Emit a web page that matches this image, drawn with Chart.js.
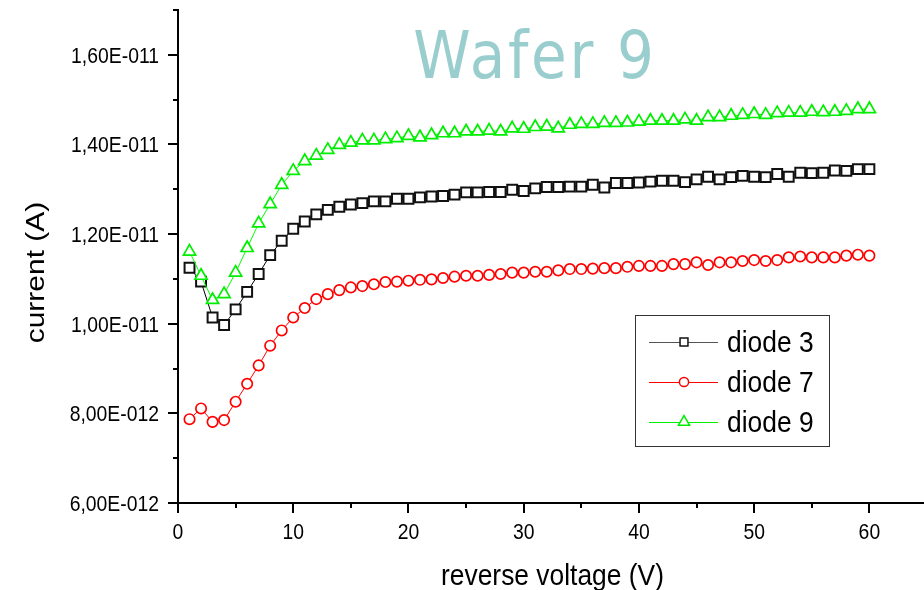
<!DOCTYPE html>
<html>
<head>
<meta charset="utf-8">
<script src="https://cdn.jsdelivr.net/npm/chart.js@4/dist/chart.umd.min.js"></script>
<style>
  html, body { margin: 0; padding: 0; background: #fff; overflow: hidden; }
  #wrap { width: 927px; height: 590px; }
</style>
</head>
<body>
<div id="wrap"><canvas id="c" width="927" height="590"></canvas></div>
<script>
// reverse voltage (V)
const voltage = [1,2,3,4,5,6,7,8,9,10,11,12,13,14,15,16,17,18,19,20,
  21,22,23,24,25,26,27,28,29,30,31,32,33,34,35,36,37,38,39,40,
  41,42,43,44,45,46,47,48,49,50,51,52,53,54,55,56,57,58,59,60];

// measured current (A)
const diode3 = [11.25e-12,10.94e-12,10.14e-12,9.97e-12,10.32e-12,10.71e-12,11.11e-12,11.53e-12,11.85e-12,12.12e-12,
  12.28e-12,12.44e-12,12.54e-12,12.61e-12,12.66e-12,12.69e-12,12.73e-12,12.73e-12,12.79e-12,12.79e-12,
  12.82e-12,12.84e-12,12.85e-12,12.88e-12,12.93e-12,12.93e-12,12.94e-12,12.94e-12,12.99e-12,12.96e-12,
  13.02e-12,13.05e-12,13.05e-12,13.06e-12,13.06e-12,13.10e-12,13.04e-12,13.14e-12,13.14e-12,13.15e-12,
  13.17e-12,13.19e-12,13.19e-12,13.16e-12,13.22e-12,13.28e-12,13.22e-12,13.27e-12,13.30e-12,13.28e-12,
  13.27e-12,13.34e-12,13.28e-12,13.37e-12,13.36e-12,13.37e-12,13.42e-12,13.41e-12,13.45e-12,13.45e-12];

const diode7 = [7.87e-12,8.11e-12,7.81e-12,7.85e-12,8.26e-12,8.66e-12,9.07e-12,9.51e-12,9.85e-12,10.14e-12,
  10.35e-12,10.55e-12,10.66e-12,10.75e-12,10.81e-12,10.84e-12,10.88e-12,10.93e-12,10.94e-12,10.96e-12,
  10.98e-12,10.99e-12,11.02e-12,11.05e-12,11.07e-12,11.07e-12,11.09e-12,11.11e-12,11.14e-12,11.14e-12,
  11.16e-12,11.16e-12,11.19e-12,11.22e-12,11.22e-12,11.23e-12,11.24e-12,11.24e-12,11.27e-12,11.29e-12,
  11.29e-12,11.29e-12,11.33e-12,11.33e-12,11.37e-12,11.31e-12,11.37e-12,11.37e-12,11.40e-12,11.42e-12,
  11.40e-12,11.42e-12,11.48e-12,11.50e-12,11.48e-12,11.48e-12,11.48e-12,11.52e-12,11.54e-12,11.52e-12];

const diode9 = [11.61e-12,11.07e-12,10.53e-12,10.66e-12,11.14e-12,11.69e-12,12.24e-12,12.67e-12,13.10e-12,13.41e-12,
  13.63e-12,13.75e-12,13.88e-12,13.99e-12,14.04e-12,14.09e-12,14.09e-12,14.12e-12,14.14e-12,14.19e-12,
  14.16e-12,14.21e-12,14.25e-12,14.25e-12,14.29e-12,14.29e-12,14.31e-12,14.29e-12,14.36e-12,14.35e-12,
  14.39e-12,14.40e-12,14.36e-12,14.44e-12,14.46e-12,14.46e-12,14.48e-12,14.48e-12,14.49e-12,14.51e-12,
  14.53e-12,14.53e-12,14.53e-12,14.56e-12,14.53e-12,14.61e-12,14.61e-12,14.64e-12,14.66e-12,14.68e-12,
  14.66e-12,14.70e-12,14.71e-12,14.71e-12,14.73e-12,14.72e-12,14.73e-12,14.75e-12,14.79e-12,14.79e-12];

// axis ticks
const xTicks = [0, 10, 20, 30, 40, 50, 60];
const xMinorTicks = [5, 15, 25, 35, 45, 55];
const yTicks = [6e-12, 8e-12, 10e-12, 12e-12, 14e-12, 16e-12];
const yTickLabels = ['6,00E-012', '8,00E-012', '1,00E-011', '1,20E-011', '1,40E-011', '1,60E-011'];
const yMinorTicks = [7e-12, 9e-12, 11e-12, 13e-12, 15e-12, 17e-12];

const seriesNames = ['diode 3', 'diode 7', 'diode 9'];
const titleText = 'Wafer 9';
const xTitle = 'reverse voltage (V)';
const yTitle = 'current (A)';

const FONT = '"Liberation Sans", Arial, sans-serif';
const SQUEEZE = 0.88; // glyphs are drawn slightly narrowed horizontally

function toPoints(ys) { return voltage.map((v, i) => ({ x: v, y: ys[i] })); }

function drawText(ctx, s, x, y, opts) {
  ctx.save();
  ctx.translate(x, y);
  ctx.scale(opts.sx ?? SQUEEZE, 1);
  if (opts.rot) ctx.rotate(opts.rot);
  ctx.font = opts.font;
  ctx.fillStyle = opts.color || '#000';
  ctx.textAlign = opts.align || 'left';
  ctx.textBaseline = 'alphabetic';
  if (opts.spacing) ctx.letterSpacing = opts.spacing;
  ctx.fillText(s, 0, 0);
  ctx.restore();
}

const axisDecor = {
  id: 'axisDecor',
  afterDraw(chart) {
    const { ctx, scales: { x, y }, chartArea } = chart;
    ctx.save();
    ctx.strokeStyle = '#000';
    ctx.lineWidth = 2;
    const tick = (x1, y1, x2, y2) => { ctx.beginPath(); ctx.moveTo(x1, y1); ctx.lineTo(x2, y2); ctx.stroke(); };
    const bottom = chartArea.bottom, left = chartArea.left;
    xTicks.forEach(v => { const p = Math.round(x.getPixelForValue(v)); tick(p, bottom, p, bottom + 10); });
    xMinorTicks.forEach(v => { const p = Math.round(x.getPixelForValue(v)); tick(p, bottom, p, bottom + 5); });
    yTicks.forEach(v => { const p = Math.round(y.getPixelForValue(v)); tick(left - 10, p, left, p); });
    yMinorTicks.forEach(v => { const p = Math.round(y.getPixelForValue(v)); tick(left - 5, p, left, p); });
    ctx.restore();

    const tickFont = '22px ' + FONT;
    xTicks.forEach(v => drawText(ctx, String(v), x.getPixelForValue(v), bottom + 36, { font: tickFont, align: 'center' }));
    yTicks.forEach((v, i) => drawText(ctx, yTickLabels[i], left - 19, y.getPixelForValue(v) + 8, { font: tickFont, align: 'right' }));

    const titleFont = '30px ' + FONT;
    drawText(ctx, xTitle, (chartArea.left + chartArea.right) / 2, 585, { font: titleFont, align: 'center' });
    drawText(ctx, yTitle, 43.5, 272.5, { font: titleFont, align: 'center', rot: -Math.PI / 2 });

    drawText(ctx, titleText, 535, 78, { font: '66px "DejaVu Sans", sans-serif', align: 'center', color: '#9acece', spacing: '3px' });
  }
};

const boxLegend = {
  id: 'boxLegend',
  afterDraw(chart) {
    const ctx = chart.ctx;
    const box = { l: 635.5, t: 315.5, r: 829.5, b: 446.5 };
    ctx.save();
    ctx.strokeStyle = '#333';
    ctx.lineWidth = 1;
    ctx.strokeRect(box.l, box.t, box.r - box.l, box.b - box.t);
    chart.data.datasets.forEach((ds, i) => {
      const rowY = 342 + i * 40;
      ctx.strokeStyle = ds.legendLine;
      ctx.lineWidth = 1;
      ctx.beginPath(); ctx.moveTo(649, rowY + 0.5); ctx.lineTo(718, rowY + 0.5); ctx.stroke();
      ctx.fillStyle = '#fff';
      ctx.strokeStyle = ds.pointBorderColor;
      ctx.lineWidth = 1.5;
      Chart.helpers.drawPoint(ctx, { pointStyle: ds.pointStyle, rotation: 0, radius: ds.legendRadius, borderWidth: 1.5 }, 684, rowY);
      drawText(ctx, ds.label, 727, rowY + 10, { font: '30px ' + FONT, align: 'left' });
    });
    ctx.restore();
  }
};

new Chart(document.getElementById('c'), {
  type: 'line',
  data: {
    datasets: [
      { label: seriesNames[0], data: toPoints(diode3), order: 3,
        borderColor: '#000', borderWidth: 1, pointStyle: 'rect', pointRadius: 7,
        pointBorderColor: '#111', pointBackgroundColor: '#fff', pointBorderWidth: 2,
        legendRadius: 5.6, legendLine: '#555' },
      { label: seriesNames[1], data: toPoints(diode7), order: 2,
        borderColor: '#ff0000', borderWidth: 1, pointStyle: 'circle', pointRadius: 5.2,
        pointBorderColor: '#ff0000', pointBackgroundColor: '#fff', pointBorderWidth: 1.7,
        legendRadius: 4.6, legendLine: '#ff0000' },
      { label: seriesNames[2], data: toPoints(diode9), order: 1,
        borderColor: '#00ff00', borderWidth: 1, pointStyle: 'triangle', pointRadius: 7,
        pointBorderColor: '#00ee00', pointBackgroundColor: '#fff', pointBorderWidth: 1.7,
        legendRadius: 6.5, legendLine: '#00ee00' }
    ]
  },
  options: {
    responsive: false,
    devicePixelRatio: 1,
    animation: false,
    events: [],
    layout: { autoPadding: false, padding: { top: 10, right: 0, bottom: 0, left: 0 } },
    plugins: { legend: { display: false }, tooltip: { enabled: false }, title: { display: false } },
    elements: { line: { tension: 0 } },
    scales: {
      x: {
        type: 'linear', position: 'bottom', min: 0, max: 65,
        grid: { display: true, drawOnChartArea: false, drawTicks: false },
        border: { display: true, color: '#000', width: 2 },
        ticks: { display: false },
        afterFit(s) { s.height = 87; }
      },
      y: {
        type: 'linear', position: 'left', min: 6e-12, max: 17e-12,
        grid: { display: true, drawOnChartArea: false, drawTicks: false },
        border: { display: true, color: '#000', width: 2 },
        ticks: { display: false },
        afterFit(s) { s.width = 178; }
      }
    }
  },
  plugins: [axisDecor, boxLegend]
});
</script>
</body>
</html>
